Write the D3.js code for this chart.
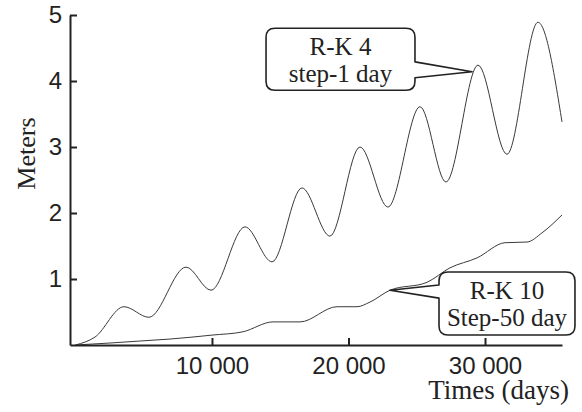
<!DOCTYPE html>
<html>
<head>
<meta charset="utf-8">
<script src="https://cdn.jsdelivr.net/npm/d3@7"></script>
<style>
  html, body { margin: 0; padding: 0; background: #fff; }
  svg { display: block; }
</style>
</head>
<body>
<div id="chart"></div>
<script>
// Series: time in days, height in meters
const rk4Days   = [0, 1430, 3550, 5380, 8100, 9930, 12420, 14400, 16590, 18640, 20840, 22890, 25240, 27140, 29490, 31610, 33880, 35640];
const rk4Meters = [0, 0.12, 0.58, 0.42, 1.18, 0.83, 1.79, 1.26, 2.38, 1.65, 3.0, 2.09, 3.61, 2.47, 4.24, 2.89, 4.89, 3.38];

const rk10Days   = [0, 2530, 4720, 6920, 10000, 12270, 14470, 16450, 19160, 20620, 21570, 23040, 25750, 27440, 29420, 31470, 33080, 34180, 35640];
const rk10Meters = [0, 0.03, 0.06, 0.09, 0.15, 0.2, 0.35, 0.35, 0.58, 0.58, 0.65, 0.83, 0.95, 1.17, 1.32, 1.55, 1.56, 1.7, 1.97];

const xTicks = [10000, 20000, 30000];
const xTickLabels = ["10 000", "20 000", "30 000"];
const yTicks = [1, 2, 3, 4, 5];

// Callout boxes, in data units (box corners, notch on the box edge, pointer tip)
const callouts = [
  { lines: ["R-K 4", "step-1 day"], side: "right",
    x0: 13960, x1: 24870, y0: 4.80, y1: 3.86, na: 4.29, nb: 4.05, tx: 29050, ty: 4.14 },
  { lines: ["R-K 10", "Step-50 day"], side: "left",
    x0: 26630, x1: 36590, y0: 1.106, y1: 0.152, na: 0.91, nb: 0.71, tx: 23040, ty: 0.83 }
];

const width = 582, height = 412;
const margin = { top: 15, right: 20, bottom: 67, left: 70 };

const svg = d3.select("#chart").append("svg")
  .attr("width", width)
  .attr("height", height);

const x = d3.scaleLinear()
  .domain([-400, 35640])
  .range([margin.left, 562]);

const y = d3.scaleLinear()
  .domain([0, 5])
  .range([height - margin.bottom, margin.top]);

const line = d3.line()
  .x(d => x(d[0]))
  .y(d => y(d[1]))
  .curve(d3.curveMonotoneX);

// curves
svg.append("path")
  .datum(d3.zip(rk10Days, rk10Meters))
  .attr("d", line)
  .attr("fill", "none")
  .attr("stroke", "#3a3a3a")
  .attr("stroke-width", 1);

svg.append("path")
  .datum(d3.zip(rk4Days, rk4Meters))
  .attr("d", line)
  .attr("fill", "none")
  .attr("stroke", "#3a3a3a")
  .attr("stroke-width", 1);

// axes
const yAxis = svg.append("g")
  .attr("transform", `translate(${margin.left},0)`)
  .call(d3.axisLeft(y).tickValues(yTicks).tickFormat(d3.format("d"))
    .tickSizeInner(-7).tickSizeOuter(0).tickPadding(8));

const xAxis = svg.append("g")
  .attr("transform", `translate(0,${y(0)})`)
  .call(d3.axisBottom(x).tickValues(xTicks)
    .tickFormat((d, i) => xTickLabels[i])
    .tickSizeInner(-7).tickSizeOuter(0).tickPadding(12));

[yAxis, xAxis].forEach(g => {
  g.select(".domain").attr("stroke", "#222").attr("stroke-width", 2);
  g.selectAll(".tick line").attr("stroke", "#222").attr("stroke-width", 2);
  g.selectAll(".tick text")
    .attr("fill", "#222")
    .style("font-family", "'Liberation Sans', Arial, sans-serif")
    .style("font-size", "24px");
});

// axis titles
svg.append("text")
  .attr("transform", `translate(35,${(y(2.9))}) rotate(-90)`)
  .attr("text-anchor", "middle")
  .style("font-family", "'Liberation Serif', 'Times New Roman', serif")
  .style("font-size", "26px")
  .attr("fill", "#222")
  .text("Meters");

svg.append("text")
  .attr("x", 569)
  .attr("y", 399)
  .attr("text-anchor", "end")
  .style("font-family", "'Liberation Serif', 'Times New Roman', serif")
  .style("font-size", "27px")
  .attr("fill", "#222")
  .text("Times (days)");

// callouts
function calloutPath(c) {
  const X0 = x(c.x0), X1 = x(c.x1), Y0 = y(c.y0), Y1 = y(c.y1);
  const A = y(c.na), B = y(c.nb), TX = x(c.tx), TY = y(c.ty);
  const r = 9;
  if (c.side === "right") {
    return `M${X0 + r},${Y0} H${X1 - r} Q${X1},${Y0} ${X1},${Y0 + r} V${A} L${TX},${TY} L${X1},${B}` +
      ` V${Y1 - r} Q${X1},${Y1} ${X1 - r},${Y1} H${X0 + r} Q${X0},${Y1} ${X0},${Y1 - r}` +
      ` V${Y0 + r} Q${X0},${Y0} ${X0 + r},${Y0} Z`;
  }
  return `M${X0 + r},${Y0} H${X1 - r} Q${X1},${Y0} ${X1},${Y0 + r} V${Y1 - r} Q${X1},${Y1} ${X1 - r},${Y1}` +
    ` H${X0 + r} Q${X0},${Y1} ${X0},${Y1 - r} V${B} L${TX},${TY} L${X0},${A}` +
    ` V${Y0 + r} Q${X0},${Y0} ${X0 + r},${Y0} Z`;
}

const note = svg.append("g")
  .selectAll("g")
  .data(callouts)
  .join("g");

note.append("path")
  .attr("d", calloutPath)
  .attr("fill", "#fff")
  .attr("stroke", "#222")
  .attr("stroke-width", 1.6)
  .attr("stroke-linejoin", "round");

note.selectAll("text")
  .data(c => c.lines.map((t, i) => ({ t, i, c })))
  .join("text")
  .attr("x", d => (x(d.c.x0) + x(d.c.x1)) / 2)
  .attr("y", d => y(d.c.y0) + 27 + d.i * 27)
  .attr("text-anchor", "middle")
  .style("font-family", "'Liberation Serif', 'Times New Roman', serif")
  .style("font-size", "25px")
  .attr("fill", "#222")
  .text(d => d.t);
</script>
</body>
</html>
